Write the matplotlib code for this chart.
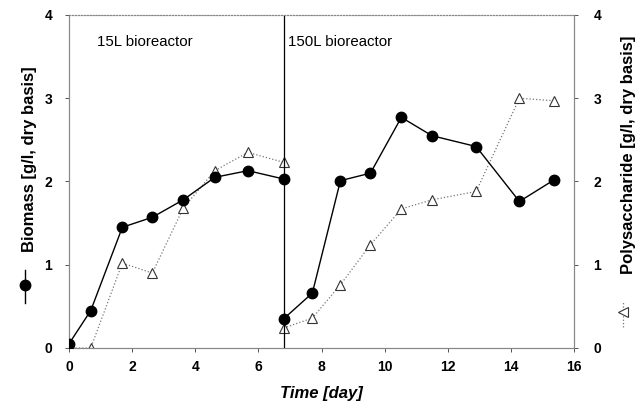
import matplotlib.pyplot as plt
from matplotlib.lines import Line2D

plt.rcParams['font.family'] = ['Liberation Sans', 'DejaVu Sans']

# 15L bioreactor phase
day_15 = [0.0, 0.69, 1.69, 2.64, 3.62, 4.62, 5.67, 6.8]
biomass_15 = [0.05, 0.45, 1.45, 1.57, 1.78, 2.05, 2.13, 2.03]
poly_15 = [0.0, 0.0, 1.02, 0.90, 1.68, 2.13, 2.35, 2.23]

# 150L bioreactor phase
day_150 = [6.8, 7.71, 8.6, 9.55, 10.53, 11.5, 12.9, 14.27, 15.37]
biomass_150 = [0.35, 0.66, 2.01, 2.10, 2.77, 2.55, 2.42, 1.76, 2.02]
poly_150 = [0.24, 0.36, 0.76, 1.24, 1.67, 1.78, 1.88, 3.0, 2.97]

switch_day = 6.8
phase_labels = ["15L bioreactor", "150L bioreactor"]
phase_label_x = [0.9, 6.95]

fig = plt.figure(figsize=(6.43, 4.13), dpi=100)
ax = fig.add_axes([0.1073, 0.1574, 0.7854, 0.8063])
ax2 = ax.twinx()

poly_style = dict(color='#777777', linestyle=':', linewidth=0.9, marker='^', markersize=7,
                  markerfacecolor='white', markeredgecolor='#333333', markeredgewidth=0.8)
bio_style = dict(color='black', linestyle='-', linewidth=1.0, marker='o', markersize=7.5,
                 markerfacecolor='black', markeredgecolor='black')

for d, p in [(day_15, poly_15), (day_150, poly_150)]:
    ax2.plot(d, p, zorder=2, **poly_style)
for d, b in [(day_15, biomass_15), (day_150, biomass_150)]:
    ax.plot(d, b, zorder=3, **bio_style)

ax.axvline(switch_day, color='black', linewidth=0.9, zorder=1)

for txt, x in zip(phase_labels, phase_label_x):
    ax.text(x, 3.67, txt, fontsize=10.8, va='center', ha='left')

for a in (ax, ax2):
    a.set_xlim(0, 16)
    a.set_ylim(0, 4)
    a.set_yticks([0, 1, 2, 3, 4])
    for s in a.spines.values():
        s.set_color('#888888')
        s.set_linewidth(0.8)
    a.spines['top'].set_linestyle(':')

ax.set_zorder(ax2.get_zorder() + 1)
ax.patch.set_visible(False)

ax.set_xticks(range(0, 17, 2))
ax.tick_params(axis='x', direction='out', length=3, width=0.7, color='#555555',
               labelsize=10, pad=6)
ax.tick_params(axis='y', direction='out', length=3, width=0.7, color='#555555',
               labelsize=10, pad=9)
ax2.tick_params(axis='y', direction='out', length=3, width=0.7, color='#555555',
                labelsize=10, pad=11)
for lbl in ax.get_xticklabels() + ax.get_yticklabels() + ax2.get_yticklabels():
    lbl.set_fontweight('bold')

ax.set_xlabel("Time [day]", fontsize=12, fontweight='bold', style='italic', labelpad=8)
ax.set_ylabel("Biomass [g/l, dry basis]", fontsize=12, fontweight='bold')
ax2.set_ylabel("Polysaccharide [g/l, dry basis]", fontsize=12, fontweight='bold')
ax.yaxis.set_label_coords(-0.064, 0.568)
ax2.yaxis.set_label_coords(1.093, 0.58)

# legend glyphs inside axis labels
fig.add_artist(Line2D([0.039, 0.039], [0.266, 0.346], transform=fig.transFigure,
                      color='black', linewidth=1.0))
fig.add_artist(Line2D([0.039], [0.31], transform=fig.transFigure, marker='o',
                      markersize=7.5, color='black', linestyle='none'))
fig.add_artist(Line2D([0.969, 0.969], [0.208, 0.269], transform=fig.transFigure,
                      color='#777777', linestyle=':', linewidth=0.9))
fig.add_artist(Line2D([0.969], [0.245], transform=fig.transFigure, marker='<',
                      markersize=6.5, markerfacecolor='white', markeredgecolor='#333333',
                      markeredgewidth=0.8, linestyle='none'))

fig.savefig("out.png", dpi=100, facecolor='white')
